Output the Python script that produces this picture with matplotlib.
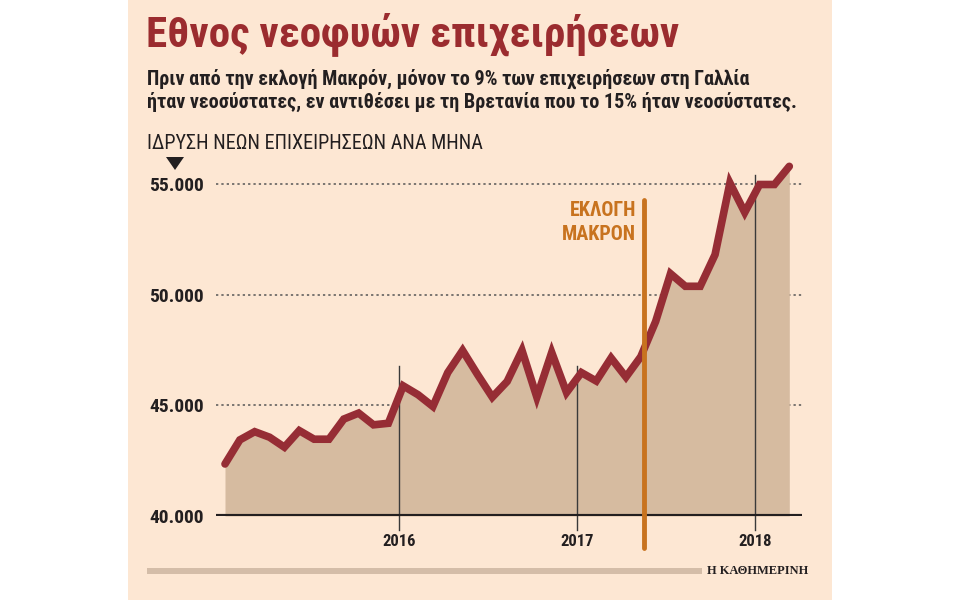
import numpy as np
import matplotlib
matplotlib.use("Agg")
import matplotlib.pyplot as plt
from matplotlib.patches import Rectangle, Polygon

# monthly new business creations, Jan 2015 .. Mar 2018 (thousands)
values = [42.35, 43.44, 43.81, 43.56, 43.11, 43.86, 43.47, 43.47, 44.38, 44.65, 44.12, 44.19,
          45.88, 45.48, 44.95, 46.48, 47.48, 46.40, 45.37, 46.08, 47.48, 45.37, 47.39, 45.58,
          46.48, 46.10, 47.14, 46.28, 47.20, 48.79, 50.95, 50.38, 50.38, 51.81, 55.05, 53.72,
          54.98, 54.98, 55.80]
year_labels = ["2016", "2017", "2018"]
year_pos = [11.7, 23.7, 35.7]   # year boundaries, in months from Jan 2015
year_line_top = [46.8, 46.8, 55.4]
y_ticks = [40, 45, 50, 55]
y_labels = ["40.000", "45.000", "50.000", "55.000"]
election_pos = 28.2

title = "Εθνος νεοφυών επιχειρήσεων"
subtitle = ["Πριν από την εκλογή Μακρόν, μόνον το 9% των επιχειρήσεων στη Γαλλία",
            "ήταν νεοσύστατες, εν αντιθέσει με τη Βρετανία που το 15% ήταν νεοσύστατες."]
unit_label = "ΙΔΡΥΣΗ ΝΕΩΝ ΕΠΙΧΕΙΡΗΣΕΩΝ ΑΝΑ ΜΗΝΑ"
election_label = "ΕΚΛΟΓΗ\nΜΑΚΡΟΝ"
source = "Η ΚΑΘΗΜΕΡΙΝΗ"

PEACH = "#FDE7D3"
FILL = "#D6BBA0"
LINE = "#962D35"
TITLE = "#9B2C2F"
ORANGE = "#C8731F"
DARK = "#231F20"

plt.rcParams['font.family'] = ['Roboto Condensed', 'Open Sans Condensed', 'DejaVu Sans']

W, H = 960, 600
fig = plt.figure(figsize=(9.6, 6.0), dpi=100)
fig.patch.set_facecolor("white")


def fx(px):
    return px / W


def fy(py):
    return 1 - py / H


fig.patches.append(Rectangle((fx(128), 0), fx(704), 1, transform=fig.transFigure,
                             facecolor=PEACH, edgecolor="none", zorder=-5))

fig.text(fx(146), fy(46), title, fontsize=31, fontweight="bold", color=TITLE, va="baseline")
fig.text(fx(147), fy(85), subtitle[0], fontsize=14.5, fontweight="bold", color=DARK, va="baseline")
fig.text(fx(147), fy(108), subtitle[1], fontsize=14.5, fontweight="bold", color=DARK, va="baseline")
fig.text(fx(147), fy(149), unit_label, fontsize=14.5, color=DARK, va="baseline")
fig.patches.append(Polygon([[fx(166), fy(157)], [fx(184), fy(157)], [fx(175), fy(170)]],
                           closed=True, transform=fig.transFigure, facecolor=DARK,
                           edgecolor="none"))

# axes: x from px 216 to 802, y from px 516 (40k) to 150
px_per_month = 14.85
x0 = 225
ax = fig.add_axes([fx(216), fy(516), fx(802 - 216), (516 - 150) / H])
ax.set_facecolor("none")
ax.set_xlim((216 - x0) / px_per_month, (802 - x0) / px_per_month)
y_scale = 22.13  # px per thousand
ax.set_ylim(40, 40 + (516 - 150) / y_scale)

x = np.arange(len(values))
ax.fill_between(x, 40, values, color=FILL, linewidth=0, zorder=1)

for yv in y_ticks[1:]:
    ax.axhline(yv, color="#555555", lw=1.1, ls=(0, (1.5, 2)), zorder=0.5)
ax.axhline(40, color=DARK, lw=3, zorder=4, solid_capstyle="butt")

below = 40 - 14 / y_scale
for xp, top in zip(year_pos, year_line_top):
    ax.plot([xp, xp], [below, top], color="#3a3a3a", lw=1, zorder=2, clip_on=False)

ax.plot(x, values, color=LINE, lw=5.5, solid_joinstyle="miter", solid_capstyle="round",
        zorder=3)

ax.plot([election_pos, election_pos], [40 - 32 / y_scale, 40 + 316 / y_scale],
        color=ORANGE, lw=3.5, solid_capstyle="round", zorder=5, clip_on=False)
ax.text(election_pos - 0.5, 40 + 315 / y_scale, election_label, ha="right", va="top",
        fontsize=14.5, fontweight="bold", color=ORANGE, linespacing=1.35)

ax.set_yticks(y_ticks)
ax.set_yticklabels(y_labels, fontsize=14, fontweight="bold", color=DARK)
ax.set_xticks(year_pos)
ax.set_xticklabels(year_labels, fontsize=12, fontweight="bold", color=DARK)
ax.tick_params(axis="y", length=0, pad=9)
ax.tick_params(axis="x", length=0, pad=13)
for s in ax.spines.values():
    s.set_visible(False)

# source bar
fig.patches.append(Rectangle((fx(147), fy(574)), fx(702 - 147), 6 / H, transform=fig.transFigure,
                             facecolor="#D4BDA8", edgecolor="none", zorder=-4))
fig.text(fx(808), fy(571), source, fontsize=9, fontweight="bold", color=DARK,
         family=["Liberation Serif", "DejaVu Serif"], ha="right", va="center")

fig.savefig("out.png", dpi=100, facecolor=fig.get_facecolor())
